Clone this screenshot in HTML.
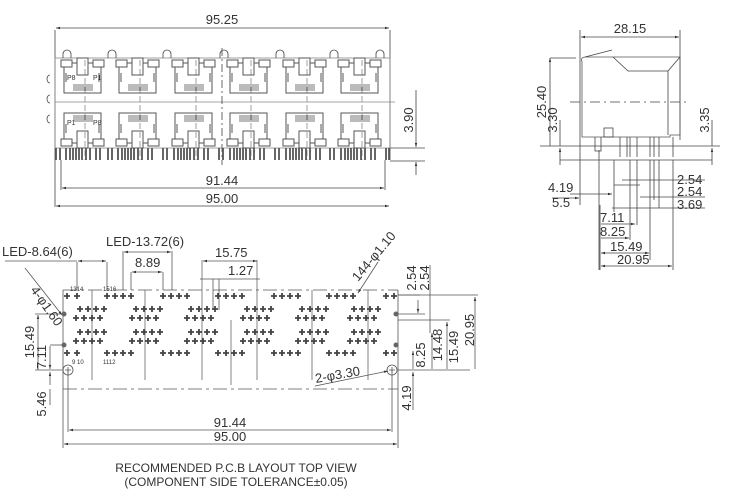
<!DOCTYPE html>
<html><head><meta charset="utf-8"><style>
html,body{margin:0;padding:0;background:#fff}
svg{display:block}
text{font-family:"Liberation Sans",Arial,sans-serif;fill:#333}
</style></head><body>
<svg width="745" height="496" viewBox="0 0 745 496" xmlns="http://www.w3.org/2000/svg">
<defs>
<g id="pu" fill="none" stroke="#555" stroke-width="1">
<rect x="1" y="2" width="11" height="7"/><rect x="33" y="2" width="11" height="7"/>
<path d="M4 9 V35 H41 V9 M12 5 H17 V0 H28 V5 H33 M17 5 V17 H28 V5"/>
<path d="M6 15 V24 M39 15 V24" />
<g stroke="#777"><path d="M14 26 V33 M16 26 V33 M18 26 V33 M20 26 V33 M22 26 V33 M24 26 V33 M26 26 V33 M28 26 V33 M30 26 V33 M32 26 V33"/></g>
</g>
<g id="pl" transform="scale(1,-1)"><use href="#pu"/></g>
<g id="cr" stroke="#444" stroke-width="1.8"><path d="M-3 0 H3 M0 -3 V3"/></g>
<g id="c4"><use href="#cr" x="0"/><use href="#cr" x="8"/><use href="#cr" x="16"/><use href="#cr" x="24"/></g>
<g id="hp">
<use href="#c4" x="47" y="296"/>
<use href="#c4" x="20" y="309"/>
<use href="#c4" x="16" y="318"/>
<use href="#c4" x="20" y="332"/>
<use href="#c4" x="16" y="341"/>
<use href="#c4" x="47" y="353"/>
</g>
<marker id="a" viewBox="0 0 10 10" refX="10" refY="5" markerWidth="6" markerHeight="5" orient="auto-start-reverse"><path d="M0 2 L10 5 L0 8z" fill="#333"/></marker>
</defs>

<g stroke="#444" fill="none" stroke-width="0.8">
<line x1="55" y1="30" x2="55" y2="160"/><line x1="390" y1="30" x2="390" y2="160"/>
<line x1="56" y1="28" x2="389" y2="28" marker-start="url(#a)" marker-end="url(#a)"/>
<rect x="55" y="58" width="335" height="90" stroke="#888"/>
<line x1="55" y1="102" x2="395" y2="102" stroke="#888"/>
<line x1="222" y1="48" x2="222" y2="165" stroke-dasharray="8,3,2,3"/>
<path d="M50 75 a3 4 0 0 0 0 8 M50 95 a3 4 0 0 0 0 8 M50 115 a3 4 0 0 0 0 8"/>
<path d="M63 58 v-4 a4 4 0 0 1 8 0 v4 M108 58 v-4 a4 4 0 0 1 8 0 v4 M163 58 v-4 a4 4 0 0 1 8 0 v4 M220 58 v-4 a4 4 0 0 1 8 0 v4 M276 58 v-4 a4 4 0 0 1 8 0 v4 M330 58 v-4 a4 4 0 0 1 8 0 v4 M376 58 v-4 a4 4 0 0 1 8 0 v4"/>
<g stroke="#888" stroke-dasharray="6,3">
<line x1="85" y1="60" x2="85" y2="160"/><line x1="140" y1="60" x2="140" y2="160"/><line x1="196" y1="60" x2="196" y2="160"/><line x1="251" y1="60" x2="251" y2="160"/><line x1="307" y1="60" x2="307" y2="160"/><line x1="362" y1="60" x2="362" y2="160"/></g>
</g>
<use href="#pu" x="60" y="58"/><use href="#pu" x="115" y="58"/><use href="#pu" x="171" y="58"/><use href="#pu" x="226" y="58"/><use href="#pu" x="282" y="58"/><use href="#pu" x="337" y="58"/>
<use href="#pl" x="60" y="148"/><use href="#pl" x="115" y="148"/><use href="#pl" x="171" y="148"/><use href="#pl" x="226" y="148"/><use href="#pl" x="282" y="148"/><use href="#pl" x="337" y="148"/>
<g stroke="#555" stroke-width="1.8">
<path d="M56 148v12M60 148v12M66 148v12M70 148v12M73 148v12M76 148v12M79 148v12M82 148v12M86 148v12M90 148v12M96 148v12M100 148v12M108 148v12M112 148v12M118 148v12M122 148v12M125 148v12M128 148v12M131 148v12M134 148v12M138 148v12M142 148v12M148 148v12M152 148v12M163 148v12M167 148v12M174 148v12M178 148v12M181 148v12M184 148v12M187 148v12M190 148v12M194 148v12M198 148v12M204 148v12M208 148v12M219 148v12M223 148v12M230 148v12M234 148v12M237 148v12M240 148v12M243 148v12M246 148v12M250 148v12M254 148v12M260 148v12M264 148v12M275 148v12M279 148v12M286 148v12M290 148v12M293 148v12M296 148v12M299 148v12M302 148v12M306 148v12M310 148v12M316 148v12M320 148v12M330 148v12M334 148v12M341 148v12M345 148v12M348 148v12M351 148v12M354 148v12M357 148v12M361 148v12M365 148v12M371 148v12M375 148v12M386 148v12M389 148v12"/>
</g>
<g stroke="#444" fill="none" stroke-width="0.8">
<line x1="55" y1="207" x2="55" y2="160"/><line x1="61" y1="190" x2="61" y2="160"/><line x1="385" y1="190" x2="385" y2="160"/>
<line x1="62" y1="188" x2="384" y2="188" marker-start="url(#a)" marker-end="url(#a)"/>
<line x1="56" y1="206" x2="389" y2="206" marker-start="url(#a)" marker-end="url(#a)"/>
<line x1="390" y1="148" x2="425" y2="148"/><line x1="390" y1="161" x2="425" y2="161"/>
<line x1="416" y1="90" x2="416" y2="147" marker-end="url(#a)"/><line x1="416" y1="175" x2="416" y2="162" marker-end="url(#a)"/>
</g>
<text x="222" y="24" font-size="13" text-anchor="middle">95.25</text>
<text x="222" y="185" font-size="13" text-anchor="middle">91.44</text>
<text x="222" y="203" font-size="13" text-anchor="middle">95.00</text>
<text transform="translate(413,120) rotate(-90)" font-size="13" text-anchor="middle">3.90</text>
<text x="67" y="80" font-size="7">P8</text><text x="93" y="80" font-size="7">P1</text>
<text x="67" y="125" font-size="7">P1</text><text x="93" y="125" font-size="7">P8</text>

<g stroke="#444" fill="none" stroke-width="0.8">
<line x1="580" y1="30" x2="580" y2="205"/><line x1="680" y1="30" x2="680" y2="140"/>
<line x1="581" y1="37" x2="679" y2="37" marker-start="url(#a)" marker-end="url(#a)"/>
<path d="M582 62 Q580 57 586 57 L680 57 V135 H670 V137 H582 Z" stroke="#555"/>
<path d="M585 57 L612 50"/>
<path d="M613 57 L628 71 H668 V135 M680 57 L668 71"/>
<rect x="604" y="128" width="9" height="9"/>
<line x1="570" y1="102" x2="690" y2="102" stroke-dasharray="10,4,2,4"/>
<line x1="550" y1="58" x2="576" y2="58"/><line x1="550" y1="58" x2="550" y2="146" marker-start="url(#a)"/>
<line x1="540" y1="146" x2="720" y2="146"/>
<line x1="560" y1="120" x2="560" y2="146"/><line x1="560" y1="165" x2="560" y2="148" marker-end="url(#a)"/>
<line x1="712" y1="120" x2="712" y2="146"/><line x1="712" y1="165" x2="712" y2="148" marker-end="url(#a)"/>
<line x1="560" y1="160" x2="712" y2="160"/>
<path d="M595 137 v14 h6 v-14 M620 137 v20 M627 137 v20 M630 137 v20 M637 137 v20 M650 137 v20 M654 137 v20 M659 137 v20 M673 137 v20"/>
<path d="M599 150 V270 M600 205 V270 M630 160 V240 M637 160 V225 M650 160 V260 M654 160 V200 M659 160 V208 M673 160 V270 M614 160 V212"/>
<line x1="614" y1="185" x2="640" y2="185"/><line x1="570" y1="194" x2="612" y2="194" marker-end="url(#a)"/>
<line x1="622" y1="180" x2="705" y2="180"/>
<line x1="552" y1="198" x2="579" y2="198" marker-end="url(#a)"/>
<line x1="640" y1="197" x2="705" y2="197"/>
<line x1="612" y1="208" x2="705" y2="208"/>
<line x1="601" y1="224" x2="635" y2="224" marker-end="url(#a)"/>
<line x1="601" y1="238" x2="629" y2="238" marker-end="url(#a)"/>
<line x1="601" y1="253" x2="649" y2="253" marker-start="url(#a)" marker-end="url(#a)"/>
<line x1="601" y1="266" x2="672" y2="266" marker-start="url(#a)" marker-end="url(#a)"/>
</g>
<text x="630" y="33" font-size="13" text-anchor="middle">28.15</text>
<text transform="translate(546,102) rotate(-90)" font-size="13" text-anchor="middle">25.40</text>
<text transform="translate(557,120) rotate(-90)" font-size="13" text-anchor="middle">3.30</text>
<text transform="translate(709,120) rotate(-90)" font-size="13" text-anchor="middle">3.35</text>
<text x="548" y="192" font-size="13">4.19</text>
<text x="552" y="207" font-size="13">5.5</text>
<text x="677" y="184" font-size="13">2.54</text>
<text x="677" y="196" font-size="13">2.54</text>
<text x="677" y="209" font-size="13">3.69</text>
<text x="600" y="222" font-size="13">7.11</text>
<text x="600" y="236" font-size="13">8.25</text>
<text x="610" y="251" font-size="13">15.49</text>
<text x="617" y="264" font-size="13">20.95</text>

<g stroke="#555" fill="none" stroke-width="0.8">
<line x1="63" y1="290" x2="63" y2="448"/><line x1="398" y1="290" x2="398" y2="448"/>
<line x1="63" y1="290" x2="398" y2="290" stroke-dasharray="14,4,3,4"/>
<line x1="63" y1="389" x2="398" y2="389" stroke-dasharray="14,4,3,4"/>
<line x1="68" y1="370" x2="68" y2="432"/><line x1="392" y1="370" x2="392" y2="432"/>
<line x1="69" y1="430" x2="391" y2="430" marker-start="url(#a)" marker-end="url(#a)"/>
<line x1="64" y1="444" x2="397" y2="444" marker-start="url(#a)" marker-end="url(#a)"/>
<circle cx="68" cy="370" r="5"/><circle cx="392" cy="370" r="5"/>
<path d="M65 370h6M68 367v6M389 370h6M392 367v6"/>
<g stroke="#666"><line x1="92" y1="290" x2="92" y2="380"/><line x1="145" y1="290" x2="145" y2="380"/><line x1="202" y1="260" x2="202" y2="380"/><line x1="231" y1="320" x2="231" y2="385"/><line x1="257" y1="260" x2="257" y2="380"/><line x1="312" y1="290" x2="312" y2="380"/><line x1="368" y1="290" x2="368" y2="380"/></g>
<line x1="77" y1="262" x2="77" y2="290"/><line x1="107" y1="262" x2="107" y2="290"/>
<line x1="78" y1="261" x2="106" y2="261" marker-start="url(#a)" marker-end="url(#a)"/>
<line x1="5" y1="261" x2="77" y2="261"/>
<line x1="123" y1="251" x2="123" y2="290"/><line x1="172" y1="251" x2="172" y2="290"/>
<line x1="124" y1="252" x2="171" y2="252" marker-start="url(#a)" marker-end="url(#a)"/>
<line x1="131" y1="272" x2="131" y2="290"/><line x1="163" y1="272" x2="163" y2="290"/>
<line x1="132" y1="272" x2="162" y2="272" marker-start="url(#a)" marker-end="url(#a)"/>
<line x1="203" y1="261" x2="257" y2="261" marker-start="url(#a)" marker-end="url(#a)"/>
<line x1="200" y1="279" x2="260" y2="279"/><line x1="213" y1="279" x2="213" y2="310"/><line x1="219" y1="279" x2="219" y2="310"/>
<line x1="25" y1="268" x2="62" y2="315" marker-end="url(#a)"/>
<line x1="378" y1="262" x2="358" y2="293" marker-end="url(#a)"/>
<line x1="315" y1="386" x2="388" y2="371" marker-end="url(#a)"/>
<line x1="35" y1="314" x2="63" y2="314"/><line x1="38" y1="315" x2="38" y2="370" marker-start="url(#a)"/>
<line x1="35" y1="370" x2="63" y2="370"/>
<line x1="50" y1="345" x2="63" y2="345"/><line x1="50" y1="346" x2="50" y2="369" marker-end="url(#a)"/>
<line x1="50" y1="389" x2="50" y2="405"/><line x1="50" y1="385" x2="50" y2="372" marker-end="url(#a)"/>
<line x1="398" y1="295" x2="420" y2="295"/><line x1="398" y1="314" x2="425" y2="314"/>
<line x1="398" y1="370" x2="470" y2="370"/>
<line x1="418" y1="300" x2="418" y2="313" marker-end="url(#a)"/>
<line x1="430" y1="265" x2="430" y2="333"/>
<line x1="413" y1="351" x2="413" y2="369" marker-start="url(#a)"/>
<line x1="413" y1="372" x2="413" y2="410" marker-start="url(#a)"/>
<line x1="432" y1="333" x2="432" y2="369" marker-start="url(#a)"/>
<line x1="398" y1="320" x2="450" y2="320"/><line x1="447" y1="322" x2="447" y2="369" marker-start="url(#a)"/>
<line x1="398" y1="295" x2="478" y2="295"/><line x1="475" y1="297" x2="475" y2="369" marker-start="url(#a)"/>
</g>
<circle cx="64" cy="314" r="2.5" fill="#666"/><circle cx="64" cy="345" r="2.5" fill="#666"/>
<circle cx="396" cy="314" r="2.5" fill="#666"/><circle cx="396" cy="345" r="2.5" fill="#666"/>
<use href="#cr" x="67" y="296"/><use href="#cr" x="77" y="296"/><use href="#cr" x="67" y="353"/><use href="#cr" x="77" y="353"/>
<use href="#hp" x="60"/><use href="#hp" x="116"/><use href="#hp" x="171"/><use href="#hp" x="227"/><use href="#hp" x="282"/>
<use href="#cr" x="386" y="296"/><use href="#cr" x="394" y="296"/><use href="#cr" x="386" y="353"/><use href="#cr" x="394" y="353"/>
<use href="#c4" x="354" y="309"/><use href="#c4" x="350" y="318"/><use href="#c4" x="354" y="332"/><use href="#c4" x="350" y="341"/>
<text x="2" y="256" font-size="13">LED-8.64(6)</text>
<text x="106" y="246" font-size="13">LED-13.72(6)</text>
<text x="135" y="267" font-size="13">8.89</text>
<text x="215" y="257" font-size="13">15.75</text>
<text x="228" y="275" font-size="13">1.27</text>
<text transform="translate(30,290) rotate(55)" font-size="13">4-φ1.60</text>
<text transform="translate(358,282) rotate(-50)" font-size="13">144-φ1.10</text>
<text x="316" y="383" font-size="13" transform="rotate(-10 316 383)">2-φ3.30</text>
<text transform="translate(34,342) rotate(-90)" font-size="13" text-anchor="middle">15.49</text>
<text transform="translate(46,357) rotate(-90)" font-size="13" text-anchor="middle">7.11</text>
<text transform="translate(46,404) rotate(-90)" font-size="13" text-anchor="middle">5.46</text>
<text transform="translate(416,278) rotate(-90)" font-size="13" text-anchor="middle">2.54</text>
<text transform="translate(429,278) rotate(-90)" font-size="13" text-anchor="middle">2.54</text>
<text transform="translate(425,355) rotate(-90)" font-size="13" text-anchor="middle">8.25</text>
<text transform="translate(442,345) rotate(-90)" font-size="13" text-anchor="middle">14.48</text>
<text transform="translate(458,347) rotate(-90)" font-size="13" text-anchor="middle">15.49</text>
<text transform="translate(474,330) rotate(-90)" font-size="13" text-anchor="middle">20.95</text>
<text transform="translate(411,398) rotate(-90)" font-size="13" text-anchor="middle">4.19</text>
<text x="230" y="427" font-size="13" text-anchor="middle">91.44</text>
<text x="230" y="441" font-size="13" text-anchor="middle">95.00</text>
<text x="70" y="291" font-size="6">1314</text><text x="103" y="291" font-size="6">1516</text>
<text x="72" y="364" font-size="6">9 10</text><text x="103" y="364" font-size="6">1112</text>
<text x="236" y="472" font-size="12" text-anchor="middle">RECOMMENDED P.C.B LAYOUT TOP VIEW</text>
<text x="236" y="486" font-size="12" text-anchor="middle">(COMPONENT SIDE TOLERANCE±0.05)</text>
</svg>
</body></html>
